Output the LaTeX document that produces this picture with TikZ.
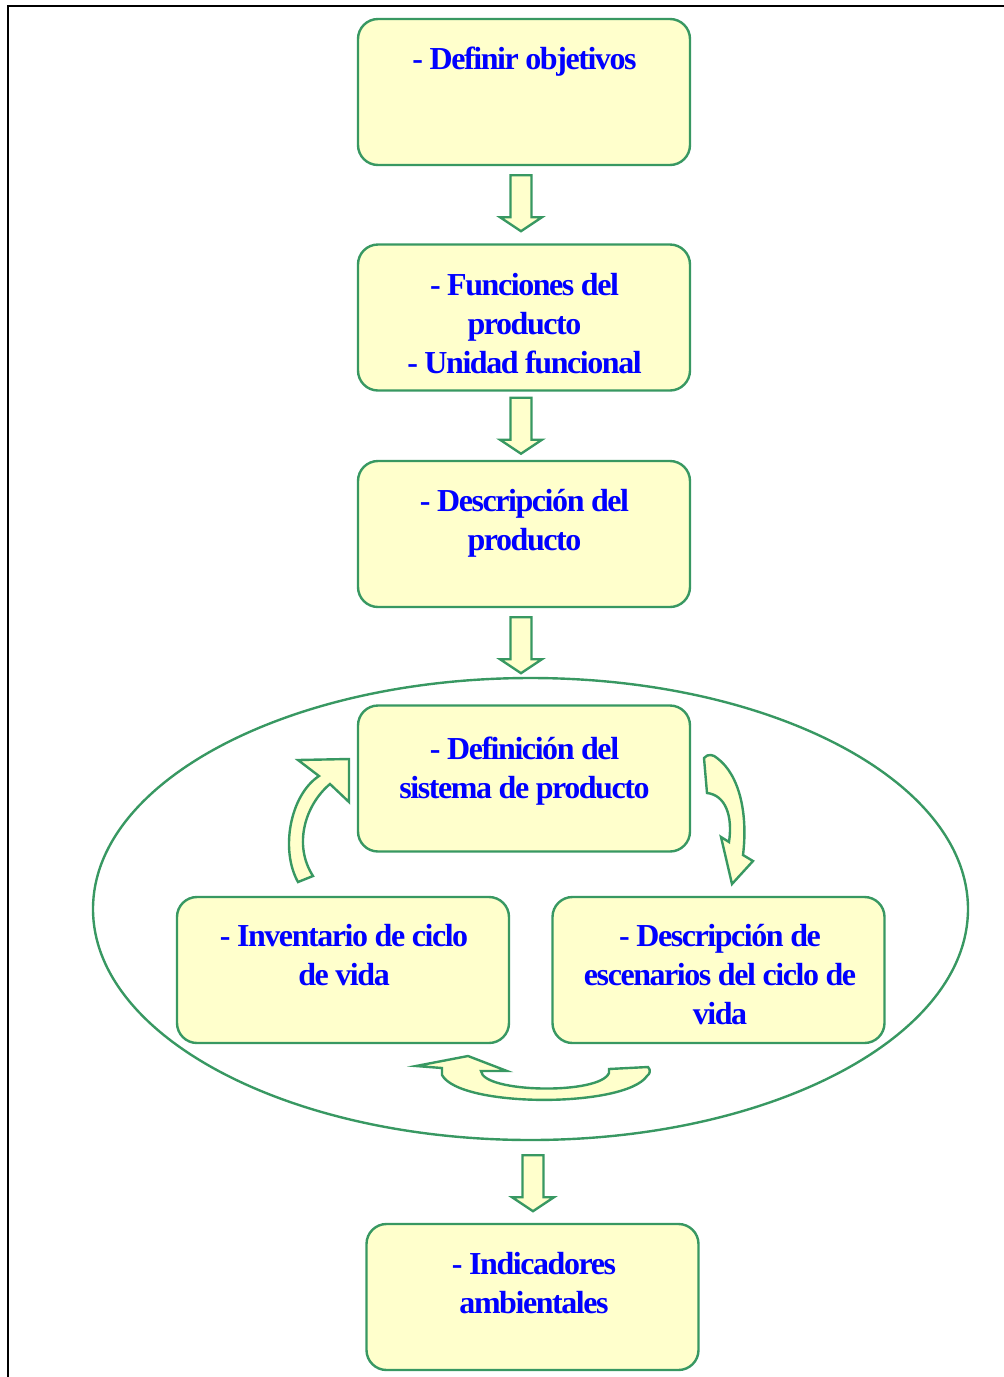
\documentclass[tikz,border=0pt]{standalone}
\usepackage{fontspec}
\setmainfont[LetterSpace=-4.5]{Liberation Serif}
\usetikzlibrary{shapes.geometric,calc}

\definecolor{boxgreen}{RGB}{56,152,98}
\definecolor{boxfill}{RGB}{255,255,204}
\definecolor{textblue}{RGB}{0,0,255}

% text block whose base anchor sits on the first line
\newcommand\lines[1]{\begin{tabular}[t]{@{}c@{}}#1\end{tabular}}

% straight block arrow from one node down to the next
% #1 source node, #2 target node, #3 x shift, #4 gap under the source
\newcommand\flowarrow[4]{%
  \draw[arrowshape] ($(#2.north |- #1.south)+(#3,#4)$)
    ++(-10.5,0) -- ++(21,0) -- ++(0,42) -- ++(10.5,0)
    -- ++(-21,14) -- ++(-21,-14) -- ++(10.5,0) -- cycle;}

\begin{document}
\begin{tikzpicture}[x=1pt,y=-1pt,
  stepbox/.style={draw=boxgreen, fill=boxfill, line width=2.4pt,
    rounded corners=20pt, minimum width=332pt, minimum height=146pt,
    inner sep=0pt},
  boxtext/.style={font=\fontsize{32}{39}\selectfont\bfseries,
    text=textblue, inner sep=0pt, anchor=base},
  arrowshape/.style={draw=boxgreen, fill=boxfill, line width=2.4pt,
    line join=miter},
  cycleshape/.style={draw=boxgreen, fill=boxfill, line width=2.4pt,
    line join=miter}]

\useasboundingbox (0,0) rectangle (1004,1377);

% frame
\draw[line width=1.6pt] (8,1377) -- (8,6) -- (1004,6);

% outer ellipse
\node[ellipse, draw=boxgreen, line width=2.4pt, minimum width=875pt,
  minimum height=462pt, inner sep=0pt] (ell) at (530.5,909) {};

% boxes
\node[stepbox] (b1) at (524,92) {};
\node[stepbox] (b2) at (524,317.5) {};
\node[stepbox] (b3) at (524,534) {};
\node[stepbox] (b4) at (524,778.5) {};
\node[stepbox] (b5) at (343,970) {};
\node[stepbox] (b6) at (718.5,970) {};
\node[stepbox] (b7) at (532.5,1297) {};

% texts
\node[boxtext] (t1) at ($(b1.north)+(0.5,52)$) {\lines{- Definir objetivos}};
\node[boxtext] (t2) at ($(b2.north)+(0.5,52)$) {\lines{- Funciones del\\producto\\- Unidad funcional}};
\node[boxtext] (t3) at ($(b3.north)+(0.5,52)$) {\lines{- Descripción del\\producto}};
\node[boxtext] (t4) at ($(b4.north)+(0.5,55)$) {\lines{- Definición del\\sistema de producto}};
\node[boxtext] (t5) at ($(b5.north)+(1,51)$) {\lines{- Inventario de ciclo\\de vida}};
\node[boxtext] (t6) at ($(b6.north)+(1.5,51)$) {\lines{- Descripción de\\escenarios del ciclo de\\vida}};
\node[boxtext] (t7) at ($(b7.north)+(1.5,52)$) {\lines{- Indicadores\\ambientales}};

% straight flow arrows
\flowarrow{b1}{b2}{-3}{9}
\flowarrow{b2}{b3}{-3}{6}
\flowarrow{b3}{ell}{-9.5}{9}
\flowarrow{ell}{b7}{0.5}{14}

% curved arrows of the cycle inside the ellipse
\draw[cycleshape] (298,882) .. controls (280,850) and (290,795) .. (319,776)
  -- (298,760) -- (349,759) -- (349,802) -- (330,784)
  .. controls (305,805) and (293,845) .. (313,876) -- cycle;

\draw[cycleshape] (704,758) .. controls (708,753) and (714,755) .. (717,758)
  .. controls (740,775) and (748,815) .. (743,855)
  -- (753,861) -- (732,884) -- (721,837) -- (729,842)
  .. controls (733,815) and (725,795) .. (707,793) -- cycle;

\draw[cycleshape] (416,1066) -- (468,1056) -- (507,1071) -- (481,1071)
  .. controls (483,1093) and (600,1095) .. (609,1073) -- (609,1069)
  -- (648,1067) .. controls (651,1070) and (650,1074) .. (647,1076)
  .. controls (625,1108) and (460,1108) .. (442,1075) -- (442,1068) -- cycle;

\end{tikzpicture}
\end{document}
